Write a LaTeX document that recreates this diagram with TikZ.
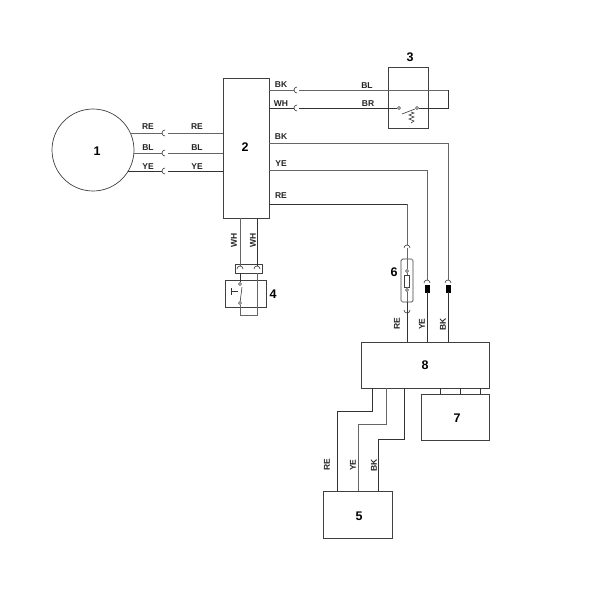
\documentclass[tikz,border=0pt]{standalone}
\usepackage{fontspec}
\setmainfont{Liberation Sans}
\tikzset{
    box/.style={draw=black!75,line width=0.7pt,rectangle,inner sep=0pt},
    wireg/.style={draw=black!60,line width=1pt},
    wirek/.style={draw=black!80,line width=0.6pt},
    lbl/.style={font=\bfseries\fontsize{8.5}{10}\selectfont,inner sep=0pt,text=black!85},
    lblv/.style={lbl,rotate=90},
    num/.style={font=\bfseries\fontsize{12.5}{14}\selectfont,inner sep=0pt},
    contact/.style={draw=black!80,circle,line width=0.5pt,minimum size=3pt,inner sep=0pt},
    sock/.style={draw=black!80,line width=0.6pt},
}
\newcommand{\sockh}[2]{\draw[sock] (#1+3,#2-3) arc (-90:-270:3);}
\newcommand{\socku}[2]{\draw[sock] (#1-3,#2+3) arc (180:360:3);}
\newcommand{\sockd}[2]{\draw[sock] (#1-3,#2-3) arc (180:0:3);}
\begin{document}
\begin{tikzpicture}[x=1pt,y=-1pt]
    \useasboundingbox (0,0) rectangle (600,600);

    \node[box,circle,minimum size=82pt] (m1) at (93,150) {};
    \node[box,minimum width=46pt,minimum height=140pt] (b2) at (246,148) {};
    \node[box,minimum width=40pt,minimum height=61pt] (b3) at (408,97.5) {};
    \node[box,minimum width=41pt,minimum height=27pt] (b4) at (245.5,293.5) {};
    \node[box,minimum width=27pt,minimum height=9pt] (c4) at (248.5,268.5) {};
    \node[box,minimum width=69pt,minimum height=47pt] (b5) at (357.5,514.5) {};
    \node[box,rounded corners=1.5pt,minimum width=12pt,minimum height=43pt] (b6) at (407,280.5) {};
    \node[box,minimum width=68pt,minimum height=46pt] (b7) at (455,417) {};
    \node[box,minimum width=128pt,minimum height=46pt] (b8) at (425,365) {};

    \node[num] (n1) at (97,151) {1};
    \node[num] (n2) at (245,147) {2};
    \node[num] (n3) at (410,57) {3};
    \node[num] (n4) at (273,294) {4};
    \node[num] (n5) at (359,516) {5};
    \node[num] (n6) at (394,272) {6};
    \node[num] (n7) at (457,418) {7};
    \node[num] (n8) at (425,365) {8};

    \coordinate (m1re) at (130,133);
    \coordinate (m1bl) at (134,153);
    \coordinate (m1ye) at (128,171);
    \coordinate (s1re) at (162,133);
    \coordinate (s1bl) at (162,153);
    \coordinate (s1ye) at (162,171);
    \coordinate (t1re) at (168,133);
    \coordinate (t1bl) at (168,153);
    \coordinate (t1ye) at (168,171);

    \draw[wireg] (m1re) -- (s1re);
    \draw[wireg] (m1bl) -- (s1bl);
    \draw[wirek] (m1ye) -- (s1ye);
    \draw[wireg] (t1re) -- (t1re -| b2.west);
    \draw[wireg] (t1bl) -- (t1bl -| b2.west);
    \draw[wirek] (t1ye) -- (t1ye -| b2.west);
    \sockh{162}{133}
    \sockh{162}{153}
    \sockh{162}{171}

    \node[lbl] (l1re) at (148,127) {RE};
    \node[lbl] (l1bl) at (148,148) {BL};
    \node[lbl] (l1ye) at (148,166.5) {YE};
    \node[lbl] (l2re) at (197,127) {RE};
    \node[lbl] (l2bl) at (197,148) {BL};
    \node[lbl] (l2ye) at (197,166.5) {YE};

    \node[contact] (k3a) at (399,108) {};
    \node[contact] (k3b) at (417,108) {};
    \coordinate (s3bk) at (294,90);
    \coordinate (s3wh) at (294,108);
    \coordinate (t3bl) at (299,90);
    \coordinate (t3br) at (299,108);
    \coordinate (e3a) at (448,90);
    \coordinate (e3b) at (448,108);

    \draw[wireg] (s3bk -| b2.east) -- (s3bk);
    \draw[wirek] (s3wh -| b2.east) -- (s3wh);
    \draw[wireg] (t3bl) -- (e3a);
    \draw[wirek] (e3a) -- (e3b) -- (k3b);
    \draw[wirek] (t3br) -- (k3a);
    \sockh{294}{90}
    \sockh{294}{108}
    \draw[wirek] (402,114) -- (415,109);
    \draw[wirek] (411,112) -- (414,113) -- (409,115) -- (414,117) -- (409,119) -- (414,121) -- (411,123);

    \node[lbl] (l3bk) at (281,85) {BK};
    \node[lbl] (l3wh) at (281,104) {WH};
    \node[lbl] (l3bl) at (367,86) {BL};
    \node[lbl] (l3br) at (368,104) {BR};
    \node[lbl] (l4bk) at (281,137) {BK};
    \node[lbl] (l4ye) at (281,164) {YE};
    \node[lbl] (l4re) at (281,196) {RE};

    \coordinate (s6a) at (407,245);
    \coordinate (s6b) at (427,280);
    \coordinate (s6c) at (448,280);
    \coordinate (w6a) at (407,204);
    \coordinate (w6b) at (427,170);
    \coordinate (w6c) at (448,143);

    \draw[wirek] (w6a -| b2.east) -- (w6a);
    \draw[wireg] (w6a) -- (s6a);
    \draw[wireg] (w6b -| b2.east) -- (w6b) -- (s6b);
    \draw[wireg] (w6c -| b2.east) -- (w6c) -- (s6c);
    \socku{407}{245}
    \socku{427}{280}
    \socku{448}{280}
    \sockd{407}{313}

    \node[draw=black,fill=black,minimum width=4.5pt,minimum height=7pt,inner sep=0pt] (p6b) at (427,288.5) {};
    \node[draw=black,fill=black,minimum width=4.5pt,minimum height=7pt,inner sep=0pt] (p6c) at (448,288.5) {};
    \node[contact] (k6a) at (407,271) {};
    \node[contact] (k6b) at (407,290) {};
    \node[box,line width=0.5pt,minimum width=5pt,minimum height=12pt] (f6) at (407,281) {};

    \draw[wireg] (407,248) -- (b6.north);
    \draw[wireg] (b6.north) -- (k6a);
    \draw[wireg] (k6a) -- (f6.north);
    \draw[wireg] (f6.south) -- (k6b);
    \draw[wireg] (k6b) -- (b6.south);
    \draw[wirek] (b6.south) -- (b6.south |- b8.north);
    \draw[wirek] (p6b) -- (p6b |- b8.north);
    \draw[wirek] (p6c) -- (p6c |- b8.north);

    \node[lblv] (l6re) at (397,324) {RE};
    \node[lblv] (l6ye) at (422,324) {YE};
    \node[lblv] (l6bk) at (443,324) {BK};

    \coordinate (w4a) at (240,218);
    \coordinate (w4b) at (257,218);
    \node[contact] (k4a) at (240,284) {};
    \node[contact] (k4b) at (240,303) {};

    \draw[wireg] (w4a) -- (240,266);
    \draw[wirek] (w4b) -- (257,266);
    \socku{240}{266}
    \socku{257}{266}
    \draw[wirek] (240,273) -- (k4a);
    \draw[wireg] (k4b) -- (240,315) -- (257,315) -- (257,273);
    \draw[wirek] (k4b) -- (242,287);
    \draw[wirek] (231,291) -- (238,291);
    \draw[wirek] (231,288) -- (231,295);

    \node[lblv] (l4a) at (234,240) {WH};
    \node[lblv] (l4b) at (253,240) {WH};

    \draw[wirek] (440,388) -- (440,394);
    \draw[wirek] (460,388) -- (460,394);
    \draw[wirek] (480,388) -- (480,394);

    \draw[wirek] (372,388) -- (372,411) -- (337,411) -- (337,491);
    \draw[wireg] (386,388) -- (386,424) -- (358,424) -- (358,491);
    \draw[wirek] (404,388) -- (404,439) -- (378,439) -- (378,491);

    \node[lblv] (l5re) at (327,465) {RE};
    \node[lblv] (l5ye) at (353,465) {YE};
    \node[lblv] (l5bk) at (374,465) {BK};
\end{tikzpicture}
\end{document}
